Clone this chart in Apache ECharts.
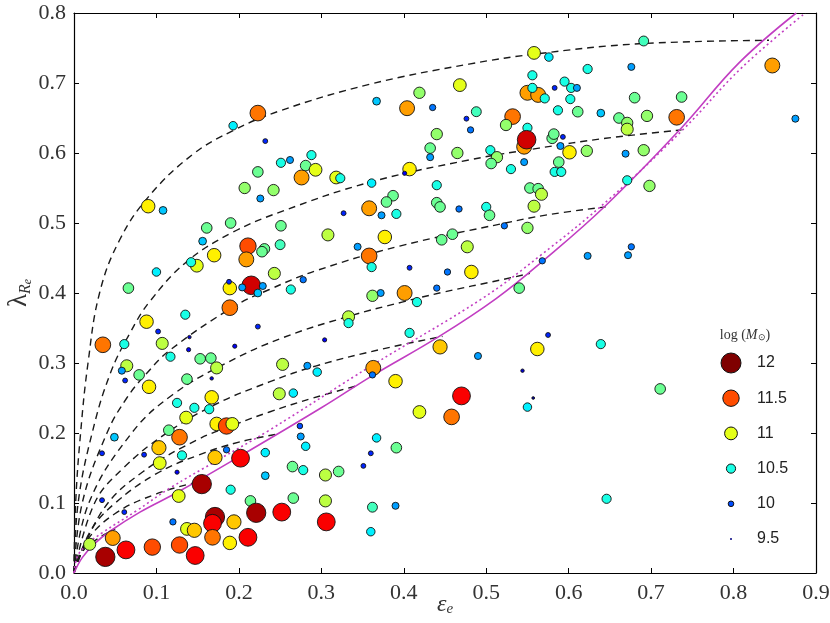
<!DOCTYPE html>
<html>
<head>
<meta charset="utf-8">
<script src="https://cdn.jsdelivr.net/npm/echarts@6/dist/echarts.min.js"></script>
<style>html,body{margin:0;padding:0;background:#fff}#c{width:830px;height:623px}</style>
</head>
<body>
<div id="c"></div>
<script>
// galaxies: [epsilon_e, lambda_Re, log(M)]
const galaxies = [
[0.223,0.657,11.4],[0.193,0.639,10.4],[0.232,0.617,9.9],[0.090,0.524,11.1],[0.108,0.518,10.3],
[0.223,0.573,10.7],[0.207,0.550,10.8],[0.242,0.547,10.8],[0.226,0.535,10.2],[0.161,0.493,10.7],
[0.190,0.500,10.7],[0.156,0.474,10.3],[0.211,0.467,11.5],[0.209,0.448,11.3],[0.231,0.463,10.7],
[0.228,0.459,10.7],[0.170,0.454,11.1],[0.149,0.439,11.0],[0.142,0.444,10.5],[0.100,0.430,10.4],
[0.066,0.407,10.7],[0.215,0.411,11.8],[0.189,0.407,11.1],[0.188,0.416,9.9],[0.204,0.408,10.2],
[0.229,0.410,10.2],[0.223,0.400,10.3],[0.243,0.428,10.9],
[0.558,0.743,11.0],[0.576,0.737,10.4],[0.556,0.711,10.5],[0.550,0.686,11.3],[0.563,0.683,11.3],
[0.556,0.693,10.5],[0.571,0.678,10.5],[0.468,0.697,11.0],[0.419,0.686,10.8],[0.367,0.674,10.3],
[0.404,0.664,11.3],[0.435,0.665,10.1],[0.488,0.659,10.6],[0.476,0.649,9.9],[0.481,0.633,10.1],
[0.532,0.652,11.4],[0.524,0.640,10.8],[0.550,0.636,10.5],[0.546,0.609,11.3],[0.549,0.619,11.8],
[0.580,0.621,10.7],[0.440,0.627,10.8],[0.432,0.607,10.7],[0.432,0.594,10.2],[0.465,0.600,10.8],
[0.505,0.604,10.5],[0.513,0.594,10.8],[0.506,0.585,10.7],[0.530,0.577,10.5],[0.546,0.587,10.2],
[0.407,0.577,11.1],[0.401,0.571,9.8],[0.262,0.590,10.2],[0.288,0.597,10.5],[0.281,0.582,10.7],
[0.293,0.576,11.0],[0.276,0.565,11.3],[0.318,0.565,11.0],[0.323,0.564,10.5],[0.361,0.557,10.4],
[0.440,0.554,10.5],[0.387,0.539,10.7],[0.379,0.530,10.7],[0.440,0.529,10.7],[0.444,0.523,10.7],
[0.391,0.513,10.5],[0.373,0.511,10.2],[0.327,0.514,9.9],[0.358,0.521,11.3],[0.467,0.520,10.1],
[0.500,0.523,10.5],[0.504,0.511,10.7],[0.553,0.550,10.7],[0.563,0.549,10.7],[0.567,0.541,10.9],
[0.558,0.524,10.9],[0.251,0.496,10.7],[0.308,0.483,10.9],[0.377,0.480,11.1],[0.344,0.466,10.2],
[0.446,0.476,10.7],[0.459,0.484,10.7],[0.477,0.466,10.9],[0.522,0.496,10.1],[0.550,0.493,10.8],
[0.358,0.453,11.4],[0.361,0.437,10.5],[0.407,0.436,9.9],[0.453,0.430,10.1],[0.482,0.430,11.1],
[0.263,0.405,10.5],[0.278,0.419,10.1],[0.440,0.407,10.1],[0.401,0.400,11.3],[0.362,0.396,10.8],
[0.372,0.400,10.2],[0.416,0.387,10.5],[0.540,0.407,10.7],[0.568,0.446,10.1],[0.251,0.586,10.5],
[0.250,0.469,10.6],
[0.691,0.760,10.6],[0.623,0.720,10.5],[0.676,0.723,10.2],[0.847,0.725,11.3],[0.595,0.702,10.5],
[0.603,0.693,10.5],[0.610,0.693,10.2],[0.583,0.693,9.9],[0.602,0.677,10.5],[0.680,0.679,10.7],
[0.737,0.680,10.7],[0.587,0.661,10.5],[0.611,0.659,10.7],[0.639,0.657,10.3],[0.661,0.650,10.7],
[0.671,0.643,10.8],[0.671,0.634,10.9],[0.695,0.653,10.8],[0.731,0.651,11.4],[0.875,0.649,10.2],
[0.582,0.627,10.7],[0.593,0.623,9.9],[0.590,0.610,10.2],[0.601,0.601,11.1],[0.622,0.603,10.8],
[0.691,0.604,10.8],[0.669,0.599,10.2],[0.588,0.587,10.7],[0.583,0.573,10.5],[0.591,0.573,10.5],
[0.671,0.561,10.5],[0.698,0.553,10.8],[0.676,0.466,10.1],[0.672,0.454,10.2],[0.623,0.453,10.2],
[0.189,0.379,11.4],[0.088,0.359,11.1],[0.135,0.369,10.5],[0.102,0.345,9.9],[0.140,0.337,9.7],
[0.223,0.352,9.9],[0.035,0.326,11.4],[0.061,0.327,10.5],[0.107,0.328,10.9],[0.117,0.309,10.5],
[0.139,0.319,9.8],[0.153,0.306,10.7],[0.166,0.307,10.7],[0.173,0.293,10.9],[0.195,0.324,9.8],
[0.064,0.296,10.9],[0.058,0.289,10.2],[0.062,0.275,9.9],[0.079,0.283,10.7],[0.091,0.266,11.1],
[0.137,0.277,10.7],[0.167,0.278,9.7],[0.253,0.298,10.9],[0.125,0.243,10.5],[0.146,0.236,10.5],
[0.164,0.234,10.5],[0.167,0.251,11.1],[0.136,0.222,11.0],[0.115,0.204,10.7],[0.128,0.194,11.4],
[0.173,0.213,11.1],[0.185,0.210,11.5],[0.192,0.213,11.0],[0.249,0.256,10.9],[0.049,0.194,10.3],
[0.034,0.171,9.9],[0.085,0.169,9.9],[0.103,0.179,11.2],[0.104,0.157,11.0],[0.131,0.168,10.5],
[0.125,0.144,9.8],[0.171,0.165,11.2],[0.185,0.176,10.1],[0.202,0.164,11.7],[0.232,0.172,10.4],
[0.232,0.139,10.3],[0.190,0.119,10.5],[0.155,0.127,11.9],[0.127,0.110,11.0],[0.034,0.104,9.9],
[0.061,0.087,9.9],[0.214,0.103,10.7],[0.221,0.086,11.9],[0.252,0.087,11.7],[0.120,0.073,10.1],
[0.137,0.063,11.0],[0.146,0.061,11.2],[0.171,0.080,11.9],[0.168,0.071,11.7],[0.194,0.073,11.2],
[0.168,0.051,11.4],[0.189,0.043,11.1],[0.211,0.051,11.7],[0.019,0.041,10.9],[0.047,0.050,11.3],
[0.038,0.023,11.9],[0.063,0.033,11.7],[0.095,0.037,11.5],[0.128,0.040,11.5],[0.147,0.025,11.7],
[0.333,0.366,10.9],[0.333,0.357,10.5],[0.304,0.333,9.8],[0.407,0.343,10.5],[0.283,0.296,10.2],
[0.295,0.287,10.4],[0.363,0.293,11.3],[0.362,0.283,10.1],[0.444,0.323,11.2],[0.390,0.274,11.1],
[0.490,0.310,10.2],[0.562,0.320,11.1],[0.575,0.340,9.9],[0.544,0.289,9.7],[0.557,0.250,9.6],
[0.266,0.257,10.4],[0.470,0.253,11.7],[0.550,0.237,10.4],[0.419,0.230,11.0],[0.458,0.223,11.4],
[0.274,0.210,10.0],[0.275,0.195,10.2],[0.281,0.181,10.4],[0.367,0.193,10.4],[0.391,0.179,10.7],
[0.360,0.171,9.9],[0.351,0.153,9.9],[0.265,0.152,10.7],[0.278,0.147,10.5],[0.305,0.140,10.9],
[0.321,0.145,10.7],[0.266,0.107,10.7],[0.305,0.103,10.9],[0.362,0.094,10.6],[0.390,0.096,10.2],
[0.306,0.073,11.7],[0.360,0.059,10.4],
[0.639,0.327,10.5],[0.711,0.263,10.7],[0.646,0.106,10.5]
];

// magenta edge-on relation (solid) and its dotted companion
const edgeOnSolid = [[0,0],[0.01,0.022],[0.025,0.042],[0.044,0.060],[0.08,0.087],[0.125,0.115],[0.2,0.166],[0.3,0.236],[0.362,0.282],[0.443,0.338],[0.512,0.392],[0.568,0.445],[0.645,0.525],[0.737,0.636],[0.806,0.728],[0.876,0.8]];
const edgeOnDotted = [[0,0],[0.004,0.023],[0.015,0.04],[0.035,0.058],[0.076,0.089],[0.116,0.121],[0.177,0.163],[0.237,0.204],[0.362,0.297],[0.495,0.392],[0.564,0.452],[0.65,0.535],[0.74,0.635],[0.81,0.722],[0.887,0.8]];

// inclination tracks (dashed), one per intrinsic flattening
const trackA = [[0,0],[0.002,0.1],[0.008,0.2],[0.017,0.3],[0.031,0.4],[0.055,0.475],[0.09,0.537],[0.144,0.598],[0.193,0.632],[0.249,0.66],[0.358,0.698],[0.479,0.727],[0.564,0.742],[0.685,0.756],[0.843,0.761]];
const trackB = [[0,0],[0.005,0.1],[0.022,0.2],[0.044,0.285],[0.068,0.343],[0.092,0.388],[0.137,0.445],[0.193,0.487],[0.253,0.517],[0.358,0.558],[0.479,0.59],[0.564,0.607],[0.645,0.621],[0.737,0.633]];
const trackC = [[0,0],[0.01,0.1],[0.04,0.2],[0.064,0.25],[0.088,0.285],[0.116,0.318],[0.193,0.38],[0.237,0.405],[0.294,0.432],[0.395,0.467],[0.519,0.499],[0.576,0.512],[0.645,0.523]];
const trackD = [[0,0],[0.018,0.1],[0.07,0.2],[0.12,0.255],[0.185,0.3],[0.253,0.336],[0.334,0.367],[0.398,0.387],[0.447,0.401],[0.519,0.419],[0.553,0.428]];
const trackE = [[0,0],[0.025,0.1],[0.06,0.15],[0.11,0.198],[0.17,0.24],[0.237,0.273],[0.294,0.296],[0.374,0.32],[0.447,0.338]];
const trackF = [[0,0],[0.035,0.09],[0.084,0.145],[0.149,0.19],[0.193,0.211],[0.237,0.23],[0.29,0.25],[0.345,0.268]];
const trackG = [[0,0],[0.02,0.06],[0.05,0.1],[0.1,0.142],[0.15,0.168],[0.2,0.187],[0.25,0.199]];
const trackH = [[0,0],[0.015,0.045],[0.05,0.085],[0.1,0.113],[0.15,0.13]];
const trackI = [[0,0],[0.01,0.03],[0.03,0.05],[0.05,0.063]];
const tracks = [trackA, trackB, trackC, trackD, trackE, trackF, trackG, trackH, trackI];

const legendMasses = [12, 11.5, 11, 10.5, 10, 9.5];

const jet = ['#00007f','#0000ff','#007fff','#00ffff','#7fff7f','#ffff00','#ff7f00','#ff0000','#7f0000'];
const mMin = 9.5, mMax = 12, sMin = 2, sMax = 20;
function hex2rgb(h){return [parseInt(h.substr(1,2),16),parseInt(h.substr(3,2),16),parseInt(h.substr(5,2),16)];}
function jetColor(m){
  let t = (m - mMin)/(mMax - mMin); t = Math.max(0, Math.min(1, t));
  const p = t*(jet.length-1), i = Math.min(Math.floor(p), jet.length-2), f = p - i;
  const a = hex2rgb(jet[i]), b = hex2rgb(jet[i+1]);
  return 'rgb(' + a.map((v,k)=>Math.round(v+(b[k]-v)*f)).join(',') + ')';
}
function sizeOf(m){ return sMin + (sMax - sMin)*(m - mMin)/(mMax - mMin); }

const chart = echarts.init(document.getElementById('c'), null, {renderer:'canvas'});
const serif = 'Liberation Serif';
const tickFont = {fontFamily: serif, fontSize: 22, color: '#333'};

const axisCommon = {
  type:'value', splitLine:{show:false},
  axisLine:{show:true, onZero:false, lineStyle:{color:'#000', width:1.2}},
  axisTick:{show:true, inside:true, length:5, lineStyle:{color:'#000', width:1}}
};

const series = [];
tracks.forEach(t => series.push({
  type:'line', data:t, symbol:'none', smooth:0.4, silent:true, z:2,
  lineStyle:{color:'#1a1a1a', width:1.4, type:[7,5]}
}));
series.push({type:'line', data:edgeOnDotted, symbol:'none', smooth:0.4, silent:true, z:3,
  lineStyle:{color:'#c23ec2', width:1.6, type:[2,3]}});
series.push({type:'line', data:edgeOnSolid, symbol:'none', smooth:0.4, silent:true, z:3,
  lineStyle:{color:'#c23ec2', width:1.6}});
series.push({type:'scatter', data:galaxies, z:5,
  itemStyle:{borderColor:'#111', borderWidth:0.9, opacity:1}});

// legend (graphic keys)
const legendX = 731, legendY0 = 363, legendDy = 35.2;
const graphics = [];
graphics.push({type:'text', x:745, y:335, z:10,
  style:{text:'{n|log (}{m|M}{s|⊙}{n|)}', align:'center', verticalAlign:'middle',
    rich:{n:{fontFamily:serif, fontSize:14, fill:'#333'},
          m:{fontFamily:serif, fontSize:14, fontStyle:'italic', fill:'#333'},
          s:{fontFamily:serif, fontSize:9, fill:'#333', verticalAlign:'bottom', lineHeight:8}}}});
legendMasses.forEach((m,i) => {
  const y = legendY0 + i*legendDy;
  graphics.push({type:'circle', x:legendX, y:y, z:10,
    shape:{cx:0, cy:0, r:Math.max(sizeOf(m)/2, 1)},
    style:{fill: jetColor(m), stroke: m > 9.6 ? '#111' : jetColor(m), lineWidth: m > 9.6 ? 1 : 0}});
  graphics.push({type:'text', x:757, y:y, z:10,
    style:{text:String(m), fontFamily:'Liberation Sans', fontSize:16, fill:'#222', verticalAlign:'middle', align:'left'}});
});

chart.setOption({
  animation:false,
  backgroundColor:'#ffffff',
  grid:{left:74, right:14, top:13, bottom:50, containLabel:false, outerBoundsMode:'none'},
  visualMap:{type:'continuous', show:false, dimension:2, min:mMin, max:mMax, seriesIndex:series.length-1,
    inRange:{color:jet, symbolSize:[sMin, sMax]}},
  xAxis:[
    Object.assign({}, axisCommon, {min:0, max:0.9, interval:0.1, position:'bottom',
      axisLabel:Object.assign({margin:9, formatter:v=>v.toFixed(1)}, tickFont),
      name:'{e|ε}{s|e}', nameLocation:'middle', nameGap:20, nameMoveOverlap:false,
      nameTextStyle:{verticalAlign:'top', rich:{e:{fontFamily:serif, fontSize:24, fontStyle:'italic', color:'#333', lineHeight:24},
                           s:{fontFamily:serif, fontSize:15, fontStyle:'italic', color:'#333', verticalAlign:'bottom', lineHeight:10}}}}),
    Object.assign({}, axisCommon, {min:0, max:0.9, interval:0.1, position:'top', axisLabel:{show:false}})
  ],
  yAxis:[
    Object.assign({}, axisCommon, {min:0, max:0.8, interval:0.1, position:'left',
      axisLabel:Object.assign({margin:8, formatter:v=>v.toFixed(1)}, tickFont),
      name:'{l|λ}{r|R}{e|e}', nameLocation:'middle', nameGap:40, nameRotate:90, nameMoveOverlap:false,
      nameTextStyle:{rich:{l:{fontFamily:serif, fontSize:27, color:'#333', lineHeight:30},
                           r:{fontFamily:serif, fontSize:16, fontStyle:'italic', color:'#333', verticalAlign:'bottom', lineHeight:14},
                           e:{fontFamily:serif, fontSize:12, fontStyle:'italic', color:'#333', verticalAlign:'bottom', lineHeight:6}}}}),
    Object.assign({}, axisCommon, {min:0, max:0.8, interval:0.1, position:'right', axisLabel:{show:false}})
  ],
  graphic:graphics,
  series:series
});
</script>
</body>
</html>
